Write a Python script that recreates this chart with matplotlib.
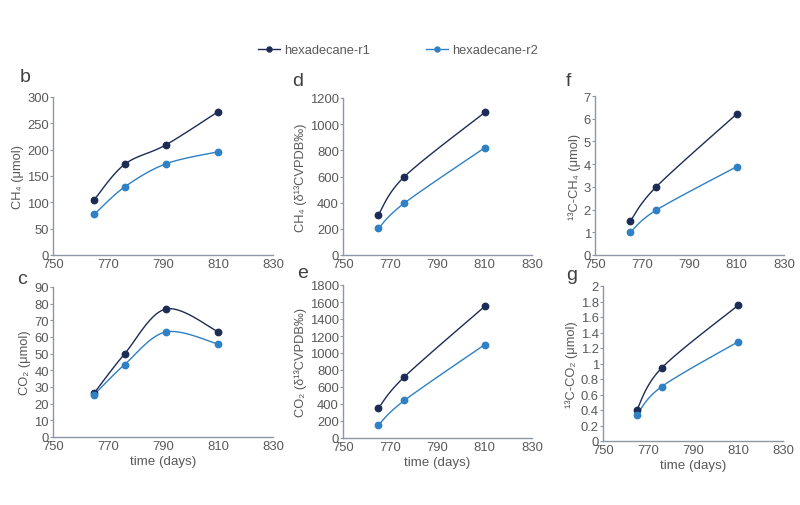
import numpy as np
import matplotlib
matplotlib.use("Agg")
import matplotlib.pyplot as plt
from matplotlib.lines import Line2D

plt.rcParams['font.family'] = ['Liberation Sans', 'DejaVu Sans']

# ---- data ----
days_4 = [765, 776, 791, 810]
days_3 = [765, 776, 810]

ch4_r1 = [105, 172, 209, 272]
ch4_r2 = [77, 129, 173, 196]
co2_r1 = [26.4, 49.8, 76.8, 63.2]
co2_r2 = [25.4, 43.4, 63.0, 55.8]
d13ch4_r1 = [308, 599, 1090]
d13ch4_r2 = [204, 397, 820]
d13co2_r1 = [352, 720, 1549]
d13co2_r2 = [153, 442, 1099]
c13ch4_r1 = [1.50, 3.01, 6.21]
c13ch4_r2 = [1.00, 1.98, 3.89]
c13co2_r1 = [0.40, 0.94, 1.75]
c13co2_r2 = [0.335, 0.70, 1.28]

series_names = ["hexadecane-r1", "hexadecane-r2"]
x_ticks = [750, 770, 790, 810, 830]

DARK = "#1d2c55"
BLUE = "#2f80c4"
TXT = "#595959"
SPINE = "#8e97a6"


def smooth(x, y, n=30):
    """Excel-style Bezier smoothing through data points (rendering only)."""
    x = np.asarray(x, float)
    y = np.asarray(y, float)
    P = np.column_stack([x, y])
    m = len(P)
    out = []
    for i in range(m - 1):
        p0 = P[i - 1] if i > 0 else P[i]
        p1 = P[i]
        p2 = P[i + 1]
        p3 = P[i + 2] if i + 2 < m else P[i + 1]
        c1 = p1 + (p2 - p0) / 6.0
        c2 = p2 - (p3 - p1) / 6.0
        t = np.linspace(0, 1, n)[:, None]
        seg = ((1 - t) ** 3) * p1 + 3 * ((1 - t) ** 2) * t * c1 + 3 * (1 - t) * t ** 2 * c2 + t ** 3 * p2
        out.append(seg if i == 0 else seg[1:])
    s = np.vstack(out)
    return s[:, 0], s[:, 1]


fig = plt.figure(figsize=(8.0, 5.06), dpi=100)
W, H = 800.0, 506.0


def make_ax(l, r, top, bot):
    return fig.add_axes([l / W, 1 - bot / H, (r - l) / W, (bot - top) / H])


panels = [
    ("b", (53, 273, 98, 256), (25, 77), days_4, ch4_r1, ch4_r2, (0, 300), np.arange(0, 301, 50),
     "CH₄ (μmol)", False),
    ("d", (343, 532, 99, 256), (298, 82), days_3, d13ch4_r1, d13ch4_r2, (0, 1200), np.arange(0, 1201, 200),
     "CH₄ (δ¹³CVPDB‰)", False),
    ("f", (595, 784, 97, 256), (568, 82), days_3, c13ch4_r1, c13ch4_r2, (0, 7), np.arange(0, 8, 1),
     "¹³C-CH₄ (μmol)", False),
    ("c", (53, 273, 288, 438), (22, 280), days_4, co2_r1, co2_r2, (0, 90), np.arange(0, 91, 10),
     "CO₂ (μmol)", True),
    ("e", (343, 532, 286, 439), (303, 273), days_3, d13co2_r1, d13co2_r2, (0, 1800), np.arange(0, 1801, 200),
     "CO₂ (δ¹³CVPDB‰)", True),
    ("g", (603, 783, 287, 442), (572, 276), days_3, c13co2_r1, c13co2_r2, (0, 2),
     np.round(np.arange(0, 2.01, 0.2), 1), "¹³C-CO₂ (μmol)", True),
]

for letter, rect, lpos, x, r1, r2, ylim, yt, ylab, bottom_row in panels:
    ax = make_ax(*rect)
    for y, col in ((r1, DARK), (r2, BLUE)):
        sx, sy = smooth(x, y)
        ax.plot(sx, sy, color=col, lw=1.0, zorder=2)
        ax.plot(x, y, 'o', color=col, ms=4.6, zorder=3)
    ax.set_xlim(750, 830)
    ax.set_ylim(*ylim)
    ax.set_xticks(x_ticks)
    ax.set_yticks(yt)
    ax.set_yticklabels([("%g" % v) for v in yt])
    for s in ("top", "right"):
        ax.spines[s].set_visible(False)
    for s in ("left", "bottom"):
        ax.spines[s].set_color(SPINE)
        ax.spines[s].set_linewidth(1.0)
    ax.tick_params(axis='y', length=2.5, width=0.8, color=SPINE, labelcolor=TXT, labelsize=9.4, pad=0.5)
    ax.tick_params(axis='x', length=0, labelcolor=TXT, labelsize=9.4, pad=2.5)
    ax.set_ylabel(ylab, color=TXT, fontsize=9.3, labelpad=2)
    if bottom_row:
        ax.set_xlabel("time (days)", color=TXT, fontsize=9.6, labelpad=1.5)
    fig.text(lpos[0] / W, 1 - lpos[1] / H, letter, fontsize=14, color="#404040",
             ha='center', va='center')

# legend
h1 = Line2D([], [], color=DARK, marker='o', ms=3.6, lw=1.0)
h2 = Line2D([], [], color=BLUE, marker='o', ms=3.6, lw=1.0)
leg = fig.legend([h1, h2], series_names, loc='center', bbox_to_anchor=(398 / W, 1 - 51 / H),
                 ncol=2, frameon=False, fontsize=9.3, handlelength=1.7, handletextpad=0.35,
                 columnspacing=4.3)
for t in leg.get_texts():
    t.set_color(TXT)

fig.savefig("out.png", dpi=100)
